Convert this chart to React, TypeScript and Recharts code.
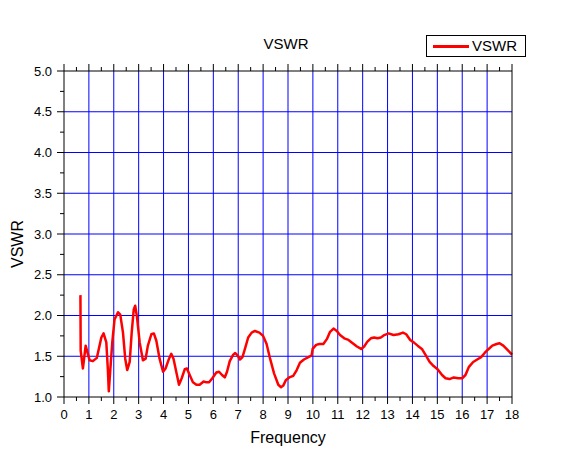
import React from "react";
import { LineChart, Line, XAxis, YAxis, ReferenceLine } from "recharts";

// frequency and VSWR (rows of ten, same order in both arrays)
const freq = [
  0.66, 0.67, 0.76, 0.87, 1.03, 1.16, 1.32, 1.5, 1.59, 1.7,
  1.76, 1.8, 1.86, 1.94, 2.03, 2.17, 2.26, 2.37, 2.46, 2.54,
  2.64, 2.72, 2.8, 2.86, 2.93, 3.04, 3.17, 3.28, 3.37, 3.51,
  3.61, 3.71, 3.84, 3.98, 4.08, 4.22, 4.31, 4.4, 4.51, 4.62,
  4.73, 4.85, 4.94, 5.05, 5.18, 5.32, 5.45, 5.61, 5.72, 5.83,
  5.96, 6.12, 6.23, 6.35, 6.46, 6.55, 6.66, 6.8, 6.88, 6.97,
  7.07, 7.17, 7.27, 7.4, 7.54, 7.67, 7.85, 8.0, 8.14, 8.28,
  8.44, 8.61, 8.72, 8.81, 8.92, 9.05, 9.21, 9.35, 9.48, 9.64,
  9.82, 9.95, 9.99, 10.13, 10.26, 10.42, 10.56, 10.69, 10.83, 10.96,
  11.09, 11.26, 11.43, 11.6, 11.77, 11.94, 12.06, 12.19, 12.33, 12.46,
  12.6, 12.73, 12.87, 13.04, 13.24, 13.44, 13.62, 13.75, 13.91, 14.05,
  14.21, 14.38, 14.52, 14.69, 14.85, 15.01, 15.19, 15.33, 15.49, 15.66,
  15.84, 16.0, 16.13, 16.27, 16.44, 16.6, 16.76, 16.9, 17.03, 17.21,
  17.38, 17.5, 17.65, 17.81, 17.97, 18.0,
];
const vswr = [
  2.25, 1.57, 1.35, 1.63, 1.45, 1.44, 1.48, 1.73, 1.78, 1.67,
  1.35, 1.07, 1.33, 1.67, 1.95, 2.04, 2.01, 1.79, 1.47, 1.33,
  1.43, 1.79, 2.07, 2.12, 1.99, 1.67, 1.45, 1.47, 1.63, 1.77,
  1.78, 1.69, 1.47, 1.31, 1.35, 1.47, 1.53, 1.47, 1.31, 1.15,
  1.23, 1.34, 1.35, 1.27, 1.18, 1.15, 1.15, 1.19, 1.18, 1.18,
  1.23, 1.3, 1.31, 1.27, 1.24, 1.31, 1.44, 1.52, 1.54, 1.51,
  1.46, 1.49, 1.59, 1.73, 1.79, 1.81, 1.79, 1.75, 1.65, 1.47,
  1.29, 1.15, 1.12, 1.14, 1.21, 1.24, 1.26, 1.33, 1.42, 1.46,
  1.49, 1.51, 1.59, 1.64, 1.65, 1.65, 1.71, 1.8, 1.84, 1.81,
  1.76, 1.72, 1.7, 1.66, 1.62, 1.59, 1.62, 1.68, 1.72, 1.73,
  1.72, 1.73, 1.76, 1.78, 1.76, 1.77, 1.79, 1.77, 1.7, 1.67,
  1.63, 1.59, 1.52, 1.43, 1.38, 1.34, 1.27, 1.23, 1.22, 1.24,
  1.23, 1.23, 1.27, 1.37, 1.43, 1.46, 1.49, 1.54, 1.58, 1.63,
  1.65, 1.66, 1.63, 1.58, 1.53, 1.52,
];

const xMajor = [0, 1, 2, 3, 4, 5, 6, 7, 8, 9, 10, 11, 12, 13, 14, 15, 16, 17, 18];
const xMinor = [0.5, 1.5, 2.5, 3.5, 4.5, 5.5, 6.5, 7.5, 8.5, 9.5, 10.5, 11.5, 12.5, 13.5, 14.5, 15.5, 16.5, 17.5];
const yMajor = [1.0, 1.5, 2.0, 2.5, 3.0, 3.5, 4.0, 4.5, 5.0];
const yMinor = [1.25, 1.75, 2.25, 2.75, 3.25, 3.75, 4.25, 4.75];

const data = freq.map((f, i) => ({ f, v: vswr[i] }));
const xTicks = [...xMajor, ...xMinor].sort((a, b) => a - b);
const yTicks = [...yMajor, ...yMinor].sort((a, b) => a - b);

const font = "'Liberation Sans', Arial, sans-serif";
const MAJOR = 7;
const MINOR = 4;

// one tick renderer per side: long tick + label on majors, short tick on minors
function makeTick(side: "bottom" | "top" | "left" | "right", labels: boolean) {
  return (props: any) => {
    const { x, y, payload } = props;
    const v = payload.value as number;
    const major = side === "bottom" || side === "top" ? xMajor.includes(v) : yMajor.includes(v);
    const len = major ? MAJOR : MINOR;
    let line;
    let text = null;
    if (side === "bottom") {
      line = <line x1={x} y1={y} x2={x} y2={y + len} stroke="#000" />;
      if (labels && major)
        text = <text x={x} y={y + 22} textAnchor="middle" fontSize={13} fontFamily={font} fill="#000">{v}</text>;
    } else if (side === "top") {
      line = <line x1={x} y1={y} x2={x} y2={y - len} stroke="#000" />;
    } else if (side === "left") {
      line = <line x1={x - len} y1={y} x2={x} y2={y} stroke="#000" />;
      if (labels && major)
        text = <text x={x - 12} y={y + 4.6} textAnchor="end" fontSize={13} fontFamily={font} fill="#000">{v.toFixed(1)}</text>;
    } else {
      line = <line x1={x} y1={y} x2={x + len} y2={y} stroke="#000" />;
    }
    return <g>{line}{text}</g>;
  };
}

const axisLine = { stroke: "#000", strokeWidth: 1 };

export default function App() {
  return (
    <div style={{ position: "relative", width: 565, height: 462, margin: -8, background: "#fff", fontFamily: font }}>
      <LineChart width={565} height={462} data={data} margin={{ top: 61, right: 43, bottom: 35, left: 4 }}>
        {/* blue grid on major values */}
        {xMajor.slice(1, -1).map((v) => (
          <ReferenceLine key={"gx" + v} xAxisId="b" yAxisId="l" x={v} stroke="#0000ff" strokeWidth={1} />
        ))}
        {yMajor.slice(1, -1).map((v) => (
          <ReferenceLine key={"gy" + v} xAxisId="b" yAxisId="l" y={v} stroke="#0000ff" strokeWidth={1} />
        ))}
        <XAxis xAxisId="b" dataKey="f" type="number" domain={[0, 18]} ticks={xTicks} height={30}
          tickSize={0} tickMargin={0} tickLine={false} tick={makeTick("bottom", true)} axisLine={axisLine} interval={0} />
        <XAxis xAxisId="t" orientation="top" dataKey="f" type="number" domain={[0, 18]} ticks={xTicks} height={10}
          tickSize={0} tickMargin={0} tickLine={false} tick={makeTick("top", false)} axisLine={axisLine} interval={0} />
        <YAxis yAxisId="l" type="number" domain={[1, 5]} ticks={yTicks} width={60}
          tickSize={0} tickMargin={0} tickLine={false} tick={makeTick("left", true)} axisLine={axisLine} interval={0} />
        <YAxis yAxisId="r" orientation="right" type="number" domain={[1, 5]} ticks={yTicks} width={10}
          tickSize={0} tickMargin={0} tickLine={false} tick={makeTick("right", false)} axisLine={axisLine} interval={0} />
        <Line xAxisId="b" yAxisId="l" dataKey="v" type="linear" stroke="#ff0000" strokeWidth={2.5}
          strokeLinejoin="round" dot={false} isAnimationActive={false} />
      </LineChart>

      <div style={{ position: "absolute", left: 236, width: 100, top: 35, textAlign: "center", fontSize: 15, lineHeight: "18px" }}>
        VSWR
      </div>
      <div style={{ position: "absolute", left: 238, width: 100, top: 428, textAlign: "center", fontSize: 16, lineHeight: "20px" }}>
        Frequency
      </div>
      <div style={{ position: "absolute", left: -32, top: 234, width: 100, textAlign: "center", fontSize: 16, lineHeight: "20px", transform: "rotate(-90deg)" }}>
        VSWR
      </div>
      <div style={{ position: "absolute", left: 426, top: 35, width: 98, height: 20, border: "1px solid #000", background: "#fff" }}>
        <div style={{ position: "absolute", left: 6, top: 9, width: 36, height: 3, background: "#ff0000" }} />
        <div style={{ position: "absolute", left: 45, top: 0, fontSize: 15, lineHeight: "20px" }}>VSWR</div>
      </div>
    </div>
  );
}
